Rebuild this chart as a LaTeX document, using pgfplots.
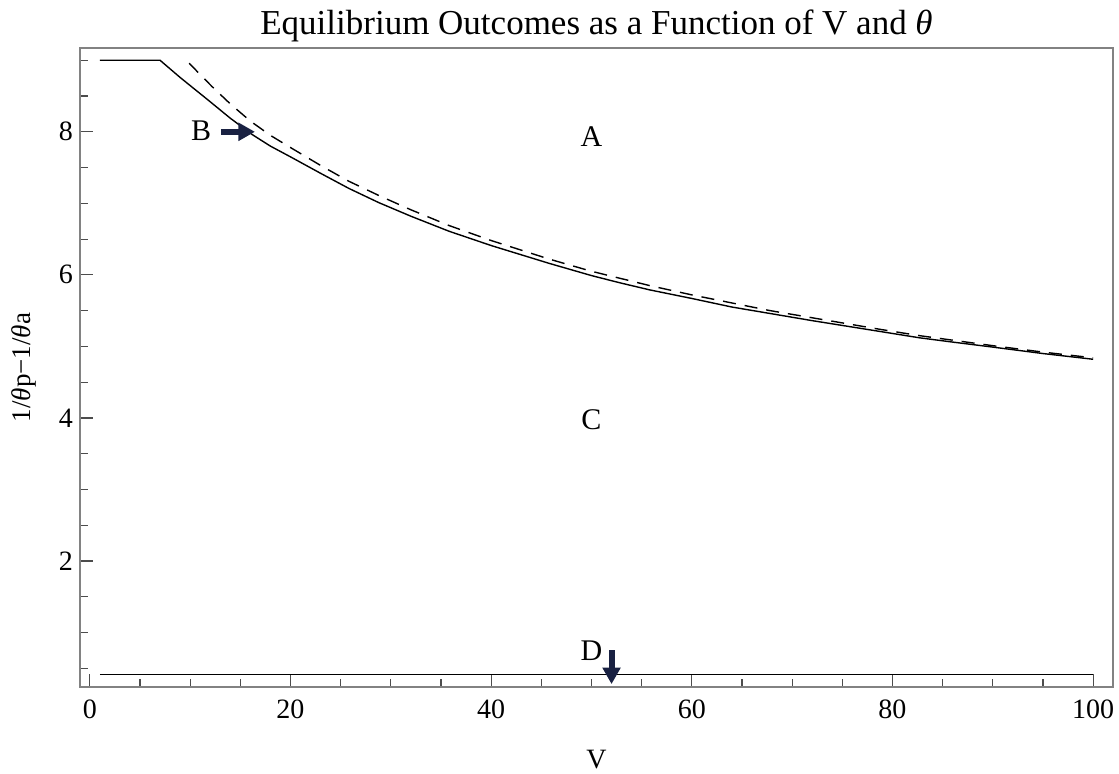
\documentclass[border=0pt]{standalone}
\usepackage{fontspec}
\setmainfont{Liberation Serif}
\usepackage{pgfplots}
\pgfplotsset{compat=1.18}
\usetikzlibrary{arrows.meta}
\definecolor{arrowblue}{RGB}{25,33,66}
\definecolor{framegray}{RGB}{130,130,130}

\begin{document}
\begin{tikzpicture}
\begin{axis}[
    name=ax,
    scale only axis,
    width=516.5pt, height=319.5pt,
    xmin=-0.98, xmax=101.98,
    ymin=0.238, ymax=9.172,
    xtick={0,20,40,60,80,100},
    ytick={2,4,6,8},
    minor xtick={5,10,15,25,30,35,45,50,55,65,70,75,85,90,95},
    minor ytick={0.5,1,1.5,2.5,3,3.5,4.5,5,5.5,6.5,7,7.5,8.5,9},
    xtick pos=bottom, ytick pos=left,
    tick align=inside,
    major tick length=6.3pt, minor tick length=3.8pt,
    axis line style={draw=framegray, line width=0.9pt},
    every tick/.style={black!70, line width=0.6pt},
    /pgf/number format/assume math mode=true,
    tick label style={font=\fontsize{14}{16}\selectfont},
    xticklabel style={yshift=-3pt},
    title={Equilibrium Outcomes as a Function of V and \textit{θ}},
    title style={font=\fontsize{17.5}{20}\selectfont, yshift=-6.5pt},
    xlabel={V},
    xlabel style={font=\fontsize{14}{16}\selectfont, at={(axis description cs:0.5,0)}, anchor=north, yshift=-28pt},
    ylabel={1/\textit{θ}p−1/\textit{θ}a},
    ylabel style={font=\fontsize{13.5}{15}\selectfont, at={(axis description cs:-0.054,0.5)}, anchor=center},
    clip=false,
]

% solid boundary
\addplot[black, line width=0.7pt] coordinates {
(1,9) (7,9) (8,8.88) (9,8.76) (10.5,8.59) (12,8.42) (14,8.19) (16.2,7.96)
(18,7.80) (20,7.65) (23,7.42) (25.8,7.21) (28.8,7.01) (32,6.82) (35.8,6.61)
(40,6.41) (45.8,6.16) (50,5.99) (52.8,5.89) (55.8,5.79) (60,5.67) (64,5.55)
(67.8,5.46) (72,5.36) (78.7,5.21) (82.7,5.12) (86,5.06) (90,4.99) (95,4.90) (100,4.82)
};

% dashed boundary
\addplot[black, line width=0.7pt, dash pattern=on 6.5pt off 4.5pt] coordinates {
(9.9,8.96) (11,8.80) (12.2,8.63) (14,8.39) (16,8.15) (18,7.95) (20,7.78)
(23,7.53) (25.8,7.31) (28.8,7.11) (32,6.91) (35.8,6.69) (40,6.48) (45.8,6.22)
(50,6.05) (55.8,5.85) (60,5.72) (67.8,5.50) (72,5.40) (78.7,5.24) (82.7,5.15)
(90,5.01) (95,4.92) (100,4.84)
};

% lower boundary
\addplot[black, line width=0.8pt] coordinates {(1,0.41) (100,0.41)};

% region labels
\node[font=\fontsize{15}{17}\selectfont] at (axis cs:50,7.93) {A};
\node[font=\fontsize{15}{17}\selectfont] at (axis cs:50,3.98) {C};
\node[font=\fontsize{15}{17}\selectfont] at (axis cs:11.1,8.01) {B};
\node[font=\fontsize{15}{17}\selectfont] at (axis cs:50,0.75) {D};

\draw[arrowblue, line width=3pt, -{Triangle[width=8.7pt,length=8.3pt]}]
    (axis cs:13.05,8.0) -- (axis cs:16.46,8.0);
\draw[arrowblue, line width=3pt, -{Triangle[width=8.7pt,length=8.3pt]}]
    (axis cs:52,0.75) -- (axis cs:52,0.278);
\end{axis}
\pgfresetboundingbox
\path ([xshift=-40pt,yshift=-43.5pt]ax.south west) rectangle ([xshift=3pt,yshift=24pt]ax.north east);
\end{tikzpicture}
\end{document}
